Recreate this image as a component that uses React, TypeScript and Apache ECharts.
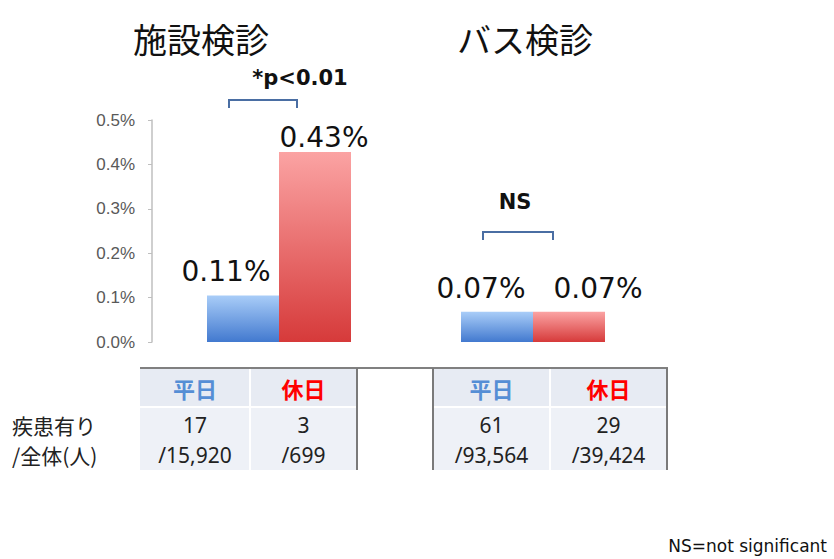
import React, { useEffect, useRef } from "react";
import * as echarts from "echarts";

const groups = ["施設検診", "バス検診"];
const seriesNames = ["平日", "休日"];
const weekdayRate = [0.105, 0.068];
const holidayRate = [0.428, 0.068];
const weekdayLabel = ["0.11%", "0.07%"];
const holidayLabel = ["0.43%", "0.07%"];
const significance = ["*p<0.01", "NS"];
const tableDays = ["平日", "休日", "平日", "休日"];
const cases = [17, 3, 61, 29];
const totals = [15920, 699, 93564, 39424];
const rowLabels = ["疾患有り", "/全体(人)"];
const footnote = "NS=not significant";

// styling / layout (not data)
const weekdayOffsets = [[-17, -10], [-16, -9]];
const holidayOffsets = [[9, 0], [29, -9]];
const colEdges = [140, 250, 357, 433, 550, 667];
const tableCols = [0, 1, 3, 4];
const dayColors = ["#558ed5", "#ff0000", "#558ed5", "#ff0000"];

const CJK = '"Noto Sans CJK JP", "Noto Sans", sans-serif';

export default function App() {
  const ref = useRef<HTMLDivElement>(null);
  useEffect(() => {
    if (!ref.current) return;
    const chart = echarts.init(ref.current, null, { renderer: "svg" });

    const blueGrad = new echarts.graphic.LinearGradient(0, 0, 0, 1, [
      { offset: 0, color: "#a9cdf8" },
      { offset: 1, color: "#4279cf" },
    ]);
    const redGrad = new echarts.graphic.LinearGradient(0, 0, 0, 1, [
      { offset: 0, color: "#fba3a3" },
      { offset: 1, color: "#d63a3a" },
    ]);

    const valueLabel = {
      show: true,
      position: "top",
      distance: 0,
      fontFamily: '"DejaVu Sans", sans-serif',
      fontSize: 28,
      color: "#111",
    };

    const graphic: any[] = [];
    const titleX = [201, 525];
    groups.forEach((g, i) => {
      graphic.push({
        type: "text",
        style: {
          text: g,
          x: titleX[i],
          y: 38,
          fill: "#111",
          font: `34px ${CJK}`,
          align: "center",
          verticalAlign: "middle",
          textAlign: "center",
          textVerticalAlign: "middle",
        },
      });
    });
    const sigPos = [
      [300, 78],
      [515, 202],
    ];
    const bracketX = [
      [229, 297],
      [483, 553],
    ];
    const bracketY = [100, 232];
    significance.forEach((s, i) => {
      graphic.push({
        type: "text",
        style: {
          text: s,
          x: sigPos[i][0],
          y: sigPos[i][1],
          fill: "#111",
          font: 'bold 21px "DejaVu Sans", sans-serif',
          align: "center",
          verticalAlign: "middle",
          textAlign: "center",
          textVerticalAlign: "middle",
        },
      });
      graphic.push({
        type: "polyline",
        shape: {
          points: [
            [bracketX[i][0], bracketY[i] + 8],
            [bracketX[i][0], bracketY[i]],
            [bracketX[i][1], bracketY[i]],
            [bracketX[i][1], bracketY[i] + 8],
          ],
        },
        style: { stroke: "#4a6ea3", lineWidth: 2, fill: null },
      });
    });

    // table backgrounds
    const top = 368;
    const mid = 407;
    const bottom = 470;
    tableCols.forEach((c) => {
      graphic.push({
        type: "rect",
        shape: { x: colEdges[c], y: top, width: colEdges[c + 1] - colEdges[c], height: mid - top },
        style: { fill: "#e7ebf3" },
      });
      graphic.push({
        type: "rect",
        shape: { x: colEdges[c], y: mid, width: colEdges[c + 1] - colEdges[c], height: bottom - mid },
        style: { fill: "#eef1f7" },
      });
    });
    // white separators
    [[140, 357], [433, 667]].forEach(([a, b]) => {
      graphic.push({
        type: "line",
        shape: { x1: a, y1: mid, x2: b, y2: mid },
        style: { stroke: "#ffffff", lineWidth: 2 },
      });
    });
    [250, 550].forEach((x) => {
      graphic.push({
        type: "line",
        shape: { x1: x, y1: top, x2: x, y2: bottom },
        style: { stroke: "#ffffff", lineWidth: 2 },
      });
    });
    // dark borders
    graphic.push({
      type: "line",
      shape: { x1: 140, y1: top, x2: 668, y2: top },
      style: { stroke: "#808080", lineWidth: 2 },
    });
    [357, 433, 667].forEach((x) => {
      graphic.push({
        type: "line",
        shape: { x1: x, y1: top, x2: x, y2: bottom },
        style: { stroke: "#7a7a7a", lineWidth: 2 },
      });
    });
    tableCols.forEach((c, i) => {
      const cx = (colEdges[c] + colEdges[c + 1]) / 2;
      graphic.push({
        type: "text",
        style: {
          text: tableDays[i],
          x: cx,
          y: 388,
          fill: dayColors[i],
          font: `bold 22px ${CJK}`,
          align: "center",
          verticalAlign: "middle",
          textAlign: "center",
          textVerticalAlign: "middle",
        },
      });
      graphic.push({
        type: "text",
        style: {
          text: String(cases[i]),
          x: cx,
          y: 425,
          fill: "#222",
          font: '21px "Noto Sans", sans-serif',
          align: "center",
          verticalAlign: "middle",
          textAlign: "center",
          textVerticalAlign: "middle",
        },
      });
      graphic.push({
        type: "text",
        style: {
          text: "/" + totals[i].toLocaleString("en-US"),
          x: cx,
          y: 455,
          fill: "#222",
          font: '21px "Noto Sans", sans-serif',
          align: "center",
          verticalAlign: "middle",
          textAlign: "center",
          textVerticalAlign: "middle",
        },
      });
    });
    rowLabels.forEach((t, i) => {
      graphic.push({
        type: "text",
        style: {
          text: t,
          x: 12,
          y: 425 + i * 30,
          fill: "#222",
          font: `21px ${CJK}`,
          align: "left",
          verticalAlign: "middle",
          textAlign: "left",
          textVerticalAlign: "middle",
        },
      });
    });
    graphic.push({
      type: "text",
      style: {
        text: footnote,
        x: 827,
        y: 546,
        fill: "#111",
        font: '17px "DejaVu Sans", sans-serif',
        align: "right",
        verticalAlign: "middle",
        textAlign: "right",
        textVerticalAlign: "middle",
      },
    });

    chart.setOption({
      animation: false,
      grid: { left: 152, top: 120, width: 508, height: 222 },
      xAxis: {
        type: "category",
        data: groups,
        axisLine: { show: false },
        axisTick: { show: false },
        axisLabel: { show: false },
      },
      yAxis: {
        type: "value",
        min: 0,
        max: 0.5,
        interval: 0.1,
        axisLine: { show: true, lineStyle: { color: "#bfbfbf", width: 1.5 } },
        axisTick: { show: true, length: 4, lineStyle: { color: "#bfbfbf" } },
        splitLine: { show: false },
        axisLabel: {
          margin: 17,
          color: "#595959",
          fontFamily: '"Liberation Sans", Arial, sans-serif',
          fontSize: 17,
          formatter: (v: number) => v.toFixed(1) + "%",
        },
      },
      series: [
        {
          name: seriesNames[0],
          type: "bar",
          barWidth: 72,
          barGap: "0%",
          itemStyle: { color: blueGrad },
          label: valueLabel,
          data: weekdayRate.map((v, i) => ({
            value: v,
            label: { formatter: weekdayLabel[i], offset: weekdayOffsets[i] },
          })),
        },
        {
          name: seriesNames[1],
          type: "bar",
          barWidth: 72,
          barGap: "0%",
          itemStyle: { color: redGrad },
          label: valueLabel,
          data: holidayRate.map((v, i) => ({
            value: v,
            label: { formatter: holidayLabel[i], offset: holidayOffsets[i] },
          })),
        },
      ],
      graphic,
    });
    return () => chart.dispose();
  }, []);
  return (
    <div
      ref={ref}
      style={{ position: "fixed", left: 0, top: 0, width: 834, height: 559, background: "#fff" }}
    />
  );
}
